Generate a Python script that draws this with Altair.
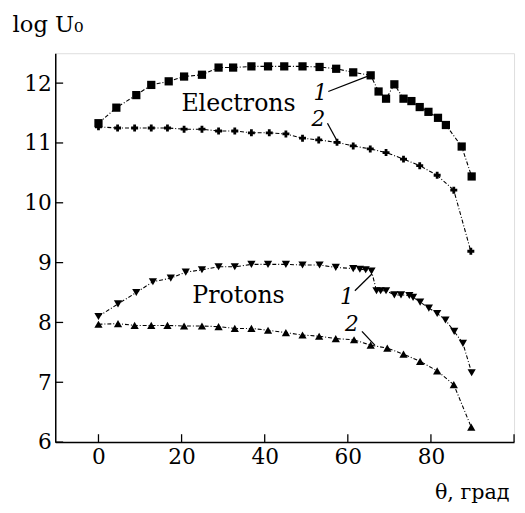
import altair as alt
import pandas as pd

# Electrons, curve 1 (squares)
e1_theta = [0, 4.3, 9.1, 12.7, 16.9, 20.6, 24.9, 28.9, 32.4, 36.8, 40.8, 44.7, 49.1, 53.2,
            57.2, 61.3, 65.5, 67.4, 69.2, 71.2, 73.4, 75.3, 77.3, 79.4, 81.7, 83.6, 87.4, 89.8]
e1_val = [11.33, 11.59, 11.80, 11.97, 12.03, 12.11, 12.14, 12.26, 12.26, 12.28, 12.28, 12.28, 12.28, 12.27,
          12.24, 12.18, 12.13, 11.86, 11.74, 11.98, 11.74, 11.70, 11.60, 11.52, 11.42, 11.30, 10.94, 10.44]
# Electrons, curve 2
e2_theta = [0, 4.6, 8.7, 12.7, 16.6, 20.6, 24.9, 28.9, 32.8, 36.8, 41.1, 45.1, 49.1, 53.0,
            57.4, 61.3, 65.4, 69.2, 73.4, 77.3, 81.5, 85.5, 89.6]
e2_val = [11.27, 11.25, 11.25, 11.25, 11.25, 11.23, 11.23, 11.20, 11.20, 11.17, 11.17, 11.15, 11.08, 11.05,
          11.01, 10.95, 10.90, 10.84, 10.73, 10.62, 10.46, 10.21, 9.19]
# Protons, curve 1 (down triangles)
p1_theta = [0, 4.7, 9.1, 13.1, 17.4, 21.0, 24.9, 28.9, 32.8, 36.8, 40.8, 45.1, 49.1, 53.2, 57.1,
            61.3, 62.9, 64.3, 65.7, 66.9, 67.9, 69.2, 71.2, 72.8, 74.8, 75.7, 77.4, 79.5, 81.5,
            83.5, 85.6, 87.7, 89.8]
p1_val = [8.10, 8.31, 8.50, 8.68, 8.74, 8.84, 8.88, 8.93, 8.93, 8.97, 8.97, 8.97, 8.96, 8.96, 8.92,
          8.90, 8.89, 8.88, 8.86, 8.53, 8.53, 8.53, 8.46, 8.46, 8.45, 8.42, 8.34, 8.24, 8.15,
          8.04, 7.85, 7.65, 7.16]
# Protons, curve 2 (up triangles)
p2_theta = [0, 4.7, 8.7, 12.7, 16.6, 20.6, 24.9, 28.9, 32.8, 36.8, 40.8, 45.1, 49.1, 53.1,
            57.1, 61.5, 65.5, 69.5, 73.4, 77.4, 81.5, 85.5, 89.7]
p2_val = [7.97, 7.98, 7.95, 7.95, 7.95, 7.94, 7.94, 7.93, 7.90, 7.90, 7.87, 7.83, 7.79, 7.77,
          7.73, 7.71, 7.62, 7.57, 7.47, 7.35, 7.19, 6.96, 6.25]

x_ticks = [0, 20, 40, 60, 80, 100]
y_ticks = [6, 7, 8, 9, 10, 11, 12]

# Annotations
names = ["Electrons", "Protons"]
names_theta = [33.7, 33.7]
names_val = [11.65, 8.44]
num_text = ["1", "2", "1", "2"]
num_theta = [53.4, 52.9, 59.8, 61.0]
num_val = [11.83, 11.40, 8.43, 7.98]
lead_theta = [55.3, 55.1, 61.7, 63.4]
lead_val = [11.86, 11.33, 8.53, 7.85]
lead_theta2 = [65.3, 57.7, 65.8, 66.5]
lead_val2 = [12.13, 11.00, 8.81, 7.62]

FONT = "DejaVu Serif"
W, H = 466, 395

def series(t, v, name):
    return pd.DataFrame({"theta": t, "val": v, "s": name})

xs = alt.Scale(domain=[-10.4, 100], nice=False, zero=False)
ys = alt.Scale(domain=[6, 12.5], nice=False, zero=False)

def layer_for(df, shape, size):
    base = alt.Chart(df)
    line = base.mark_line(color="black", strokeWidth=1.1, strokeDash=[4, 2, 1, 2]).encode(
        x=alt.X("theta:Q", scale=xs), y=alt.Y("val:Q", scale=ys))
    pts = base.mark_point(shape=shape, size=size, filled=True, color="black", opacity=1).encode(
        x=alt.X("theta:Q", scale=xs), y=alt.Y("val:Q", scale=ys))
    return [line, pts]

e1 = series(e1_theta, e1_val, "e1")
e2 = series(e2_theta, e2_val, "e2")
p1 = series(p1_theta, p1_val, "p1")
p2 = series(p2_theta, p2_val, "p2")

axis_x = alt.Axis(values=x_ticks, format="d", labelExpr="datum.value < 100 ? datum.label : ''",
                  title="θ, град", titleX=423, titleY=40, titleAlign="center",
                  titleFontWeight="normal", titleFontSize=21, titleFont=FONT,
                  labelFont=FONT, labelFontSize=22, labelColor="black", labelPadding=5,
                  tickSize=0, domainColor="black", domainWidth=1.5, grid=False)
axis_y = alt.Axis(values=y_ticks, format="d", title="log U₀", titleAngle=0, titleX=-8, titleY=-29,
                  titleAlign="center", titleBaseline="middle", titleFontWeight="normal",
                  titleFontSize=23, titleFont=FONT,
                  labelFont=FONT, labelFontSize=22, labelColor="black", labelPadding=4,
                  tickSize=0, domainColor="black", domainWidth=1.5, grid=False)

frame = alt.Chart(pd.DataFrame({"theta": [0], "val": [6]})).mark_point(opacity=0).encode(
    x=alt.X("theta:Q", scale=xs, axis=axis_x), y=alt.Y("val:Q", scale=ys, axis=axis_y))

xt = alt.Chart(pd.DataFrame({"t": x_ticks})).mark_rule(color="black", strokeWidth=1.3).encode(
    x=alt.X("t:Q", scale=xs), y=alt.value(H), y2=alt.value(H - 8))
yt = alt.Chart(pd.DataFrame({"t": y_ticks})).mark_rule(color="black", strokeWidth=1.3).encode(
    y=alt.Y("t:Q", scale=ys), x=alt.value(0), x2=alt.value(8))

names_df = pd.DataFrame({"theta": names_theta, "val": names_val, "txt": names})
name_txt = alt.Chart(names_df).mark_text(font=FONT, fontSize=24, color="black").encode(
    x=alt.X("theta:Q", scale=xs), y=alt.Y("val:Q", scale=ys), text="txt:N")

num_df = pd.DataFrame({"theta": num_theta, "val": num_val, "txt": num_text})
num_txt = alt.Chart(num_df).mark_text(font=FONT, fontSize=22, fontStyle="italic", color="black").encode(
    x=alt.X("theta:Q", scale=xs), y=alt.Y("val:Q", scale=ys), text="txt:N")

lead_df = pd.DataFrame({"a": lead_theta, "b": lead_val, "a2": lead_theta2, "b2": lead_val2})
leads = alt.Chart(lead_df).mark_rule(color="black", strokeWidth=1.3).encode(
    x=alt.X("a:Q", scale=xs), y=alt.Y("b:Q", scale=ys), x2="a2:Q", y2="b2:Q")

layers = [frame, xt, yt]
layers += layer_for(e1, "square", 70)
layers += layer_for(e2, "cross", 50)
layers += layer_for(p1, "triangle-down", 70)
layers += layer_for(p2, "triangle-up", 70)
layers += [name_txt, num_txt, leads]

chart = alt.layer(*layers).properties(
    width=W, height=H,
    autosize=alt.AutoSizeParams(type="none"),
    padding={"left": 48, "top": 42, "right": 3, "bottom": 62},
).configure_view(stroke=None).configure(background="white", font=FONT)

chart.save("out.html", embed_options={"renderer": "svg", "actions": False})
